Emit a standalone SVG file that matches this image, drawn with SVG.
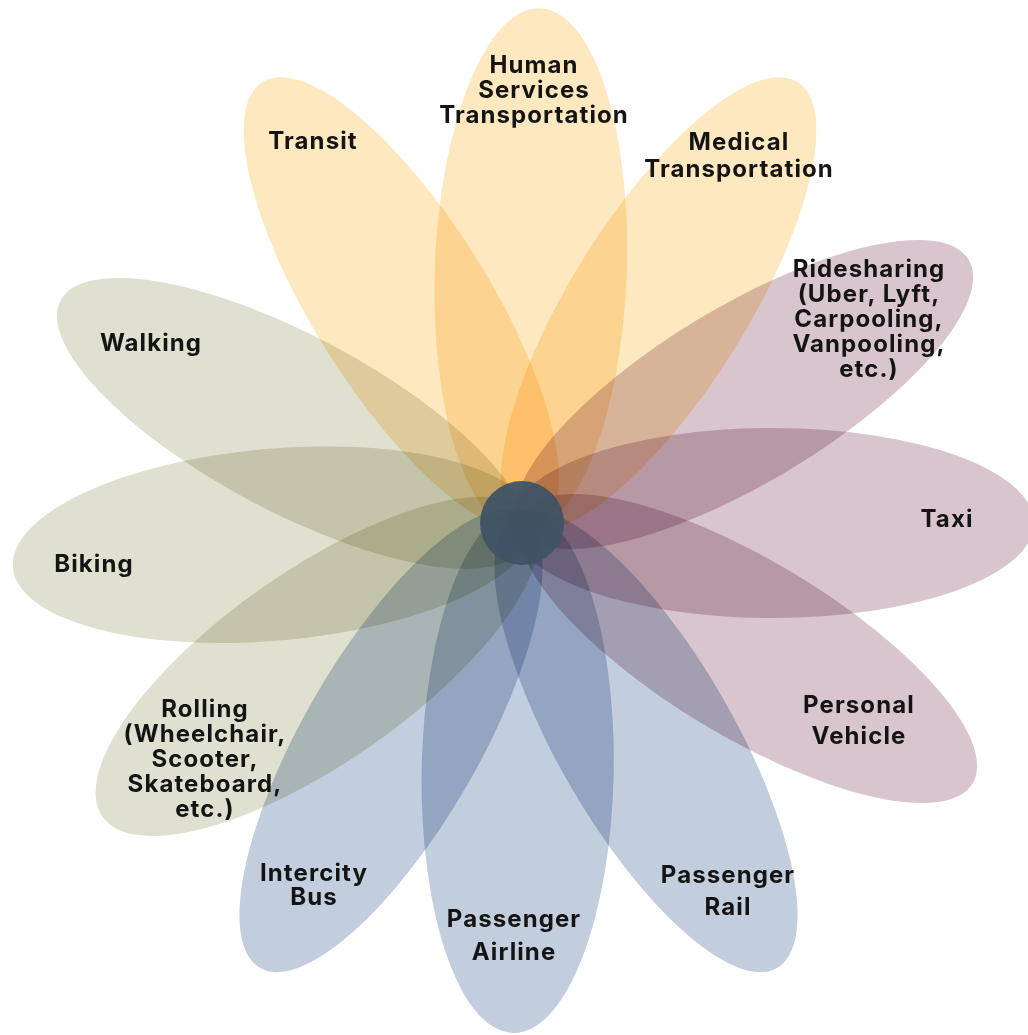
<svg xmlns="http://www.w3.org/2000/svg" width="1028" height="1035" viewBox="0 0 1028 1035">
<style>
  .petal { mix-blend-mode: multiply; }
  .y { fill: #FEE8C0; }
  .g { fill: #DFE0D0; }
  .p { fill: #D8C5CD; }
  .b { fill: #C2CDDE; }
  .lbl { font-family: Inter, "Noto Sans", "Liberation Sans", sans-serif; font-weight: 700; font-size: 24px; letter-spacing: 1.1px; fill: #141414; text-anchor: middle; }
</style>
<rect width="1028" height="1035" fill="#ffffff"/>
<g id="petals" style="isolation:isolate">
  <g id="human-services"><ellipse class="petal y" cx="530.8" cy="270.2" rx="262" ry="96" transform="rotate(-88 530.8 270.2)"/></g>
  <g id="transit"><ellipse class="petal y" cx="401.3" cy="304.2" rx="262" ry="88" transform="rotate(-122 401.3 304.2)"/></g>
  <g id="medical"><ellipse class="petal y" cx="658.7" cy="304.2" rx="262" ry="88" transform="rotate(-58 658.7 304.2)"/></g>
  <g id="ridesharing"><ellipse class="petal p" cx="744" cy="394.5" rx="262" ry="88" transform="rotate(-31 744 394.5)"/></g>
  <g id="taxi"><ellipse class="petal p" cx="772" cy="523" rx="262" ry="95" /></g>
  <g id="personal-vehicle"><ellipse class="petal p" cx="748" cy="648.5" rx="262" ry="88" transform="rotate(31 748 648.5)"/></g>
  <g id="passenger-rail"><ellipse class="petal b" cx="646" cy="741" rx="262" ry="88" transform="rotate(60 646 741)"/></g>
  <g id="passenger-airline"><ellipse class="petal b" cx="517.7" cy="771" rx="262" ry="96" transform="rotate(91 517.7 771)"/></g>
  <g id="intercity-bus"><ellipse class="petal b" cx="391" cy="741" rx="262" ry="88" transform="rotate(120 391 741)"/></g>
  <g id="rolling"><ellipse class="petal g" cx="317.2" cy="666.4" rx="262" ry="96" transform="rotate(145 317.2 666.4)"/></g>
  <g id="biking"><ellipse class="petal g" cx="273.9" cy="544.7" rx="262" ry="96" transform="rotate(175 273.9 544.7)"/></g>
  <g id="walking"><ellipse class="petal g" cx="292" cy="423.4" rx="262" ry="88" transform="rotate(-152 292 423.4)"/></g>
</g>
<g id="center"><circle cx="522" cy="523" r="42" fill="#3F5365" fill-opacity="0.95"/></g>
<g id="labels">
  <text class="lbl" x="534" y="73">Human</text>
  <text class="lbl" x="534" y="98">Services</text>
  <text class="lbl" x="534" y="123">Transportation</text>
  <text class="lbl" x="313" y="149">Transit</text>
  <text class="lbl" x="739" y="150">Medical</text>
  <text class="lbl" x="739" y="177">Transportation</text>
  <text class="lbl" x="869" y="277">Ridesharing</text>
  <text class="lbl" x="869" y="302">(Uber, Lyft,</text>
  <text class="lbl" x="869" y="327">Carpooling,</text>
  <text class="lbl" x="869" y="352">Vanpooling,</text>
  <text class="lbl" x="869" y="377">etc.)</text>
  <text class="lbl" x="151" y="351">Walking</text>
  <text class="lbl" x="94" y="572">Biking</text>
  <text class="lbl" x="947" y="527">Taxi</text>
  <text class="lbl" x="859" y="713">Personal</text>
  <text class="lbl" x="859" y="744">Vehicle</text>
  <text class="lbl" x="728" y="883">Passenger</text>
  <text class="lbl" x="728" y="915">Rail</text>
  <text class="lbl" x="514" y="927">Passenger</text>
  <text class="lbl" x="514" y="960">Airline</text>
  <text class="lbl" x="314" y="881">Intercity</text>
  <text class="lbl" x="314" y="905">Bus</text>
  <text class="lbl" x="205" y="717">Rolling</text>
  <text class="lbl" x="205" y="742">(Wheelchair,</text>
  <text class="lbl" x="205" y="767">Scooter,</text>
  <text class="lbl" x="205" y="792">Skateboard,</text>
  <text class="lbl" x="205" y="817">etc.)</text>
</g>
</svg>
